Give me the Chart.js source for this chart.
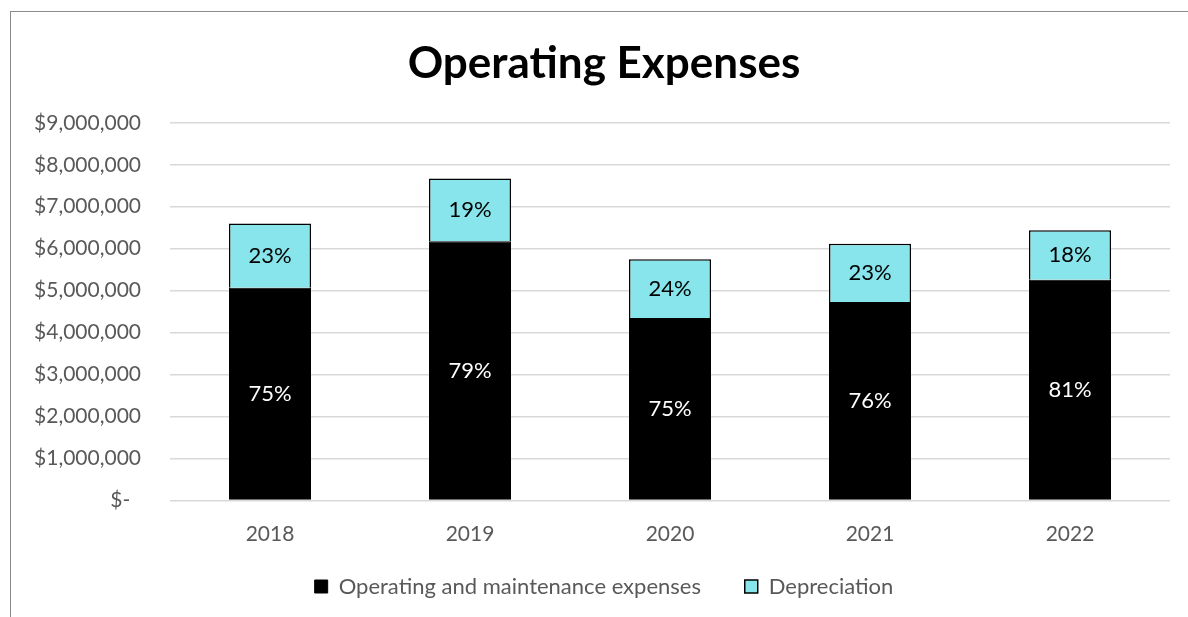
<!DOCTYPE html>
<html>
<head>
<meta charset="utf-8">
<script src="https://cdn.jsdelivr.net/npm/chart.js@4/dist/chart.umd.min.js"></script>
<style>
  body { margin: 0; background: #fff; }
  #frame { position: absolute; left: 10px; top: 11px; width: 1300px; height: 700px;
           border-left: 1.5px solid #8c8c8c; border-top: 1.5px solid #8c8c8c; }
  #wrap { position: absolute; left: 0; top: 0; width: 1188px; height: 617px; }
</style>
</head>
<body>
<div id="frame"></div>
<div id="wrap"><canvas id="bar-chartcanvas" width="1188" height="617"></canvas></div>
<script>
var years = ['2018', '2019', '2020', '2021', '2022'];
var omExpenses = [5070000, 6180000, 4350000, 4730000, 5260000];
var depreciation = [1530000, 1490000, 1400000, 1390000, 1180000];
var omPct = ['75%', '79%', '75%', '76%', '81%'];
var depPct = ['23%', '19%', '24%', '23%', '18%'];
var yTicks = [0, 1000000, 2000000, 3000000, 4000000, 5000000, 6000000, 7000000, 8000000, 9000000];

var fontName = 'Lato, "Open Sans", sans-serif';

// percent labels in the middle of each bar piece
var pctLabels = {
	id: 'pctLabels',
	afterDatasetsDraw: function(chart) {
		var ctx = chart.ctx;
		var texts = [omPct, depPct];
		var colors = ['#ffffff', '#000000'];
		ctx.save();
		ctx.font = '22px ' + fontName;
		ctx.textAlign = 'center';
		ctx.textBaseline = 'middle';
		chart.data.datasets.forEach(function(ds, di) {
			var meta = chart.getDatasetMeta(di);
			meta.data.forEach(function(bar, i) {
				var p = bar.getProps(['x', 'y', 'base'], true);
				ctx.fillStyle = colors[di];
				ctx.fillText(texts[di][i], p.x, (p.y + p.base) / 2);
			});
		});
		ctx.restore();
	}
};

var ctx = document.getElementById('bar-chartcanvas');

var data1 = {
	labels: years,
	datasets: [
		{
			label: 'Operating and maintenance expenses',
			data: omExpenses,
			backgroundColor: '#000000',
			borderColor: '#000000',
			borderWidth: 1,
			barPercentage: 0.41,
			categoryPercentage: 1
		},
		{
			label: 'Depreciation',
			data: depreciation,
			backgroundColor: '#87e5eb',
			borderColor: '#000000',
			borderWidth: 1.5,
			barPercentage: 0.41,
			categoryPercentage: 1
		}
	]
};

var options = {
	responsive: false,
	animation: false,
	layout: { padding: { left: 20, right: 0, top: 0, bottom: 9.5 } },
	plugins: {
		title: {
			display: true,
			text: 'Operating Expenses',
			color: '#000',
			font: { family: fontName, size: 44, weight: 'bold' },
			padding: { top: 37, bottom: 33 }
		},
		legend: {
			position: 'bottom',
			labels: {
				color: '#595959',
				font: { family: fontName, size: 22 },
				boxWidth: 13,
				boxHeight: 13,
				padding: 10,
				generateLabels: function(chart) {
					var items = Chart.defaults.plugins.legend.labels.generateLabels(chart);
					// wider gap between the two entries, like the original
					items[0].text = items[0].text + '      ';
					return items;
				}
			}
		},
		tooltip: { enabled: false }
	},
	scales: {
		x: {
			stacked: true,
			grid: { display: false, drawTicks: false },
			border: { display: false },
			ticks: { color: '#595959', font: { family: fontName, size: 21 }, padding: 21 },
			afterFit: function(scale) { scale.height = 65; }
		},
		y: {
			stacked: true,
			min: 0,
			max: 9000000,
			afterBuildTicks: function(scale) {
				scale.ticks = yTicks.map(function(v) { return { value: v }; });
			},
			grid: { color: '#d9d9d9', lineWidth: 1.5, drawTicks: false },
			border: { display: false },
			ticks: {
				color: '#595959',
				font: { family: fontName, size: 21 },
				padding: 29,
				callback: function(v) {
					if (v === 0) return '$-  ';
					return '$' + v.toLocaleString('en-US');
				}
			},
			afterFit: function(scale) { scale.width = 150; }
		},
		y2: {
			position: 'right',
			grid: { display: false, drawTicks: false },
			border: { display: false },
			ticks: { display: false },
			afterFit: function(scale) { scale.width = 18; }
		}
	}
};

var chart = new Chart(ctx, {
	type: 'bar',
	data: data1,
	options: options,
	plugins: [pctLabels]
});
</script>
</body>
</html>
